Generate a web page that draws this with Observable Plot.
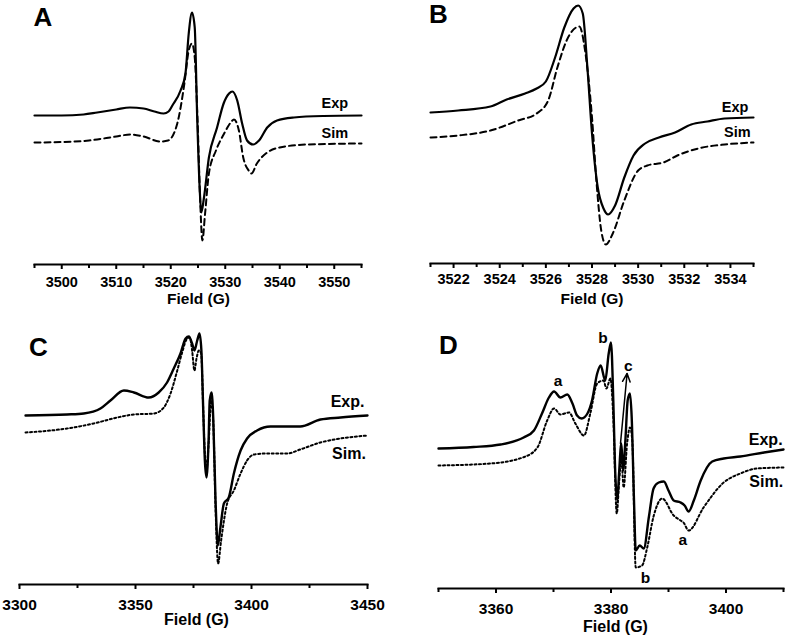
<!DOCTYPE html>
<html><head><meta charset="utf-8">
<script src="https://cdn.jsdelivr.net/npm/d3@7"></script>
<script src="https://cdn.jsdelivr.net/npm/@observablehq/plot@0.6"></script>
<style>
body{margin:0;background:#fff;}
#wrap{position:relative;width:787px;height:639px;overflow:hidden;font-family:"Liberation Sans",Arial,sans-serif;}
.panel{position:absolute;}
#wrap svg text{font-weight:700 !important;font-family:"Liberation Sans",Arial,sans-serif;}
</style></head><body><div id="wrap"></div>
<script>
// ---- Panel A : field (G), signal (a.u.) ----
const aExp = [[3495,0],[3500,0],[3504,1],[3506.5,3],[3510,6],[3512.5,8],[3515,7],[3517,4],[3518.7,2],[3519.6,4],[3520.3,10],[3521.8,25],[3522.7,42],[3523.3,82],[3523.9,103],[3524.4,88],[3524.85,-2],[3525.3,-72],[3525.6,-97],[3526.1,-82],[3527,-42],[3528.5,-12],[3529.7,12],[3530.7,22],[3531.3,24],[3532.2,15],[3533.1,-8],[3534,-25],[3535.1,-29],[3536.2,-25],[3537.7,-12],[3539.5,-5],[3542.6,-2],[3548,-0.5],[3555,0]];
const aSim = [[3495,-27],[3500,-26.5],[3505,-25],[3510,-21],[3512.6,-19],[3515,-21],[3518.1,-26],[3519.5,-25],[3521.2,-8],[3522.5,32],[3523.3,65],[3523.9,72],[3524.4,58],[3524.9,-2],[3525.4,-85],[3525.8,-125],[3526.3,-98],[3527,-58],[3528.3,-35],[3529.8,-18],[3531,-7],[3531.6,-4],[3532.5,-15],[3533.3,-42],[3534.3,-55],[3534.8,-58],[3535.8,-48],[3537.7,-37],[3540,-32],[3545,-29],[3555,-28]];
const aMajorTicks = [3500,3510,3520,3530,3540,3550];
const aMinorTicks = [3495,3505,3515,3525,3535,3545,3555];
const aLabels = [{x:3550.1,y:12,text:"Exp"},{x:3550.1,y:-18,text:"Sim"}];

// ---- Panel B ----
const bExp = [[3521,0],[3522.2,2],[3523.6,6],[3524.3,13],[3525.1,19],[3525.6,24],[3526,31],[3526.4,55],[3526.8,85],[3527.2,104],[3527.4,107],[3527.6,99],[3527.8,45],[3528,-21],[3528.25,-75],[3528.5,-96],[3528.7,-102],[3529,-93],[3529.4,-65],[3529.8,-43],[3530.3,-31],[3530.9,-25],[3531.6,-20],[3532.3,-12],[3533,-9],[3533.75,-6],[3535,-5]];
const bSim = [[3521,-25],[3522.2,-23],[3523.6,-18],[3524.8,-8],[3525.6,-1],[3526.1,12],[3526.5,45],[3526.9,72],[3527.45,86],[3527.7,62],[3528,-5],[3528.2,-71],[3528.4,-118],[3528.6,-132],[3528.9,-121],[3529.4,-88],[3530,-58],[3530.4,-53],[3531.1,-50],[3531.7,-43],[3532.6,-36],[3533.75,-32],[3535,-30]];
const bMajorTicks = [3522,3524,3526,3528,3530,3532,3534];
const bMinorTicks = [3521,3523,3525,3527,3529,3531,3533,3535];
const bLabels = [{x:3534.2,y:5,text:"Exp"},{x:3534.3,y:-20,text:"Sim"}];

// ---- Panel C ----
const cExp = [[3302.6,0],[3320.5,1],[3327.7,2],[3334.9,7],[3339.2,15],[3345,25],[3349.3,23],[3355.7,18],[3360,23],[3363.6,33],[3366.5,47],[3369.4,62],[3371.6,77],[3373,79],[3374.4,72],[3375.4,65],[3376.6,75],[3377.6,82],[3378.4,65],[3379.2,5],[3379.9,-45],[3380.6,-62],[3381.5,-25],[3382,15],[3382.8,23],[3383.5,-2],[3384.5,-85],[3385.5,-130],[3386.6,-112],[3388.1,-88],[3390.2,-82],[3392.4,-58],[3395.3,-35],[3398.1,-23],[3402.4,-15],[3408.2,-11],[3421,-11],[3429.7,-4],[3438.4,-2],[3450,0]];
const cSim = [[3302.6,-17],[3320.5,-13],[3332,-8],[3342.1,-2],[3349.3,1],[3357.9,2],[3362.2,8],[3365.1,22],[3368,45],[3370.1,63],[3372.3,77],[3373.4,78],[3374.4,65],[3375.4,45],[3376.3,57],[3377.3,65],[3378.3,62],[3379.2,5],[3379.9,-38],[3380.7,-52],[3381.6,-25],[3382.6,15],[3383.5,-5],[3384.5,-92],[3385.6,-148],[3386.9,-125],[3389.5,-88],[3392.4,-75],[3395.3,-58],[3398.1,-45],[3401,-39],[3406.8,-38],[3415.4,-38],[3421,-34],[3429.7,-27],[3438.4,-23],[3450,-20]];
const cMajorTicks = [3300,3350,3400,3450];
const cMinorTicks = [3325,3375,3425];
const cLabels = [{x:3441.4,y:14,text:"Exp."},{x:3442,y:-38,text:"Sim."}];

// ---- Panel D ----
const dExp = [[3350,0],[3356.1,1.5],[3360.8,4],[3364.8,11],[3366.6,18],[3368,35],[3369.2,51],[3370.1,57],[3371.2,51],[3372.4,54],[3373.3,45],[3374.1,33],[3374.9,30],[3375.9,35],[3376.7,48],[3377.6,75],[3378.2,83],[3379,68],[3379.6,95],[3380,106],[3380.4,48],[3380.7,-18],[3381.1,-52],[3381.4,-25],[3381.8,5],[3382.1,-22],[3382.5,8],[3382.9,48],[3383.3,55],[3383.6,31],[3384,-52],[3384.3,-102],[3385,-97],[3385.7,-100],[3386.6,-68],[3387.4,-40],[3388.3,-34],[3389.2,-33],[3390,-42],[3390.9,-52],[3392.1,-54],[3392.8,-57],[3393.5,-63],[3394.4,-52],[3395.6,-32],[3397.6,-13],[3399.6,-10],[3402.5,-8],[3406.6,-4],[3410,-1]];
const dSim = [[3350,-17],[3359,-15],[3364.8,-8.7],[3367.2,1],[3368.9,28],[3370.1,40],[3371.2,34],[3372.7,36],[3373.8,25],[3375.3,13],[3376.4,35],[3377.6,65],[3378.7,68],[3379.2,60],[3379.9,70],[3380.4,31],[3381,-65],[3381.4,-35],[3381.8,-9],[3382.2,-39],[3382.8,5],[3383.3,21],[3383.7,8],[3384.3,-119],[3385.4,-117],[3386.3,-99],[3387.4,-68],[3388.9,-50],[3390.9,-67],[3392.1,-72],[3392.6,-74],[3393.5,-82],[3396.1,-59],[3399.6,-34],[3402.5,-25],[3405.4,-20],[3410,-19]];
const dMajorTicks = [3360,3380,3400];
const dMinorTicks = [3350,3370,3390,3410];
const dLabels = [{x:3406.9,y:9,text:"Exp."},{x:3407,y:-33.5,text:"Sim."}];
const dPeakLabels = [{x:3370.8,y:67.5,text:"a"},{x:3378.6,y:110,text:"b"},{x:3383,y:82,text:"c"},{x:3392.5,y:-91.5,text:"a"},{x:3386,y:-130,text:"b"}];
const dArrows = [{x1:3381.65,y1:5,x2:3382.8,y2:75}];

const FONT = "Liberation Sans, Arial, Helvetica, sans-serif";

function panel(c) {
  const marks = [
    Plot.axisX(c.minor, {tickSize: 4, strokeWidth: 2, tickFormat: () => "", label: null}),
    Plot.axisX(c.major, {tickSize: 5, tickPadding: c.tickPadding, strokeWidth: 2, fontSize: c.tickFont, fontWeight: "bold", tickFormat: d => String(d), label: null}),
    Plot.frame({anchor: "bottom", strokeWidth: 2}),
    Plot.line(c.sim, {x: d => d[0], y: d => d[1], curve: "monotone-x", stroke: "#000", strokeWidth: c.simWidth, strokeDasharray: c.dash}),
    Plot.line(c.exp, {x: d => d[0], y: d => d[1], curve: "monotone-x", stroke: "#000", strokeWidth: c.expWidth}),
    Plot.text(c.labels, {x: "x", y: "y", text: "text", fontSize: c.labelFont, fontWeight: "bold", fill: "#000"}),
    Plot.text([c.letter], {frameAnchor: "top-left", dx: c.letterDx, dy: c.letterDy, textAnchor: "middle", lineAnchor: "middle", fontSize: 26, fontWeight: "bold", fill: "#000"}),
    Plot.text(["Field (G)"], {frameAnchor: "bottom", dx: c.fieldDx, dy: c.fieldDy, lineAnchor: "middle", fontSize: c.fieldFont, fontWeight: "bold", fill: "#000"})
  ];
  if (c.extra) marks.push(...c.extra);
  const svg = Plot.plot({
    width: c.width, height: c.height,
    marginTop: 0, marginLeft: c.ml, marginRight: c.mr, marginBottom: c.mb,
    style: {background: "transparent", overflow: "visible", fontFamily: FONT, fontWeight: "bold", color: "#000"},
    x: {domain: c.xDomain},
    y: {domain: c.yDomain, axis: null},
    marks
  });
  const div = document.createElement("div");
  div.className = "panel";
  div.style.left = c.left + "px";
  div.style.top = c.top + "px";
  div.appendChild(svg);
  document.getElementById("wrap").appendChild(div);
}

panel({left: 0, top: 0, width: 390, height: 310, ml: 34, mr: 29, mb: 46,
  xDomain: [3495, 3555], yDomain: [-149, 115], exp: aExp, sim: aSim,
  major: aMajorTicks, minor: aMinorTicks, tickPadding: 7, tickFont: 14.5,
  dash: "6,4", simWidth: 2, expWidth: 2.2, labels: aLabels, labelFont: 14.5,
  letter: "A", letterDx: 8.5, letterDy: 17, fieldDx: 0.5, fieldDy: 35, fieldFont: 15.5});

panel({left: 390, top: 0, width: 397, height: 310, ml: 40, mr: 34, mb: 47,
  xDomain: [3521, 3535], yDomain: [-151, 112], exp: bExp, sim: bSim,
  major: bMajorTicks, minor: bMinorTicks, tickPadding: 5, tickFont: 14.5,
  dash: "6,4", simWidth: 2, expWidth: 2.2, labels: bLabels, labelFont: 14.5,
  letter: "B", letterDx: 8, letterDy: 14, fieldDx: 0, fieldDy: 36, fieldFont: 15.5});

panel({left: 0, top: 300, width: 390, height: 339, ml: 19, mr: 23, mb: 55,
  xDomain: [3300, 3450], yDomain: [-169, 115], exp: cExp, sim: cSim,
  major: cMajorTicks, minor: cMinorTicks, tickPadding: 9, tickFont: 15.5,
  dash: "2,2.5", simWidth: 2, expWidth: 2.4, labels: cLabels, labelFont: 16,
  letter: "C", letterDx: 19, letterDy: 47, fieldDx: 3, fieldDy: 35.5, fieldFont: 16});

panel({left: 390, top: 300, width: 397, height: 339, ml: 48, mr: 4, mb: 51,
  xDomain: [3350, 3410], yDomain: [-140, 148], exp: dExp, sim: dSim,
  major: dMajorTicks, minor: dMinorTicks, tickPadding: 9, tickFont: 15.5,
  dash: "2,2.5", simWidth: 2, expWidth: 2.4, labels: dLabels, labelFont: 16,
  letter: "D", letterDx: 10, letterDy: 45.5, fieldDx: 4.5, fieldDy: 38.5, fieldFont: 16,
  extra: [
    Plot.text(dPeakLabels, {x: "x", y: "y", text: "text", fontSize: 15.5, fontWeight: "bold", fill: "#000"}),
    Plot.arrow(dArrows, {x1: "x1", y1: "y1", x2: "x2", y2: "y2", stroke: "#000", strokeWidth: 1.5, headLength: 9, headAngle: 50})
  ]});
</script></body></html>
